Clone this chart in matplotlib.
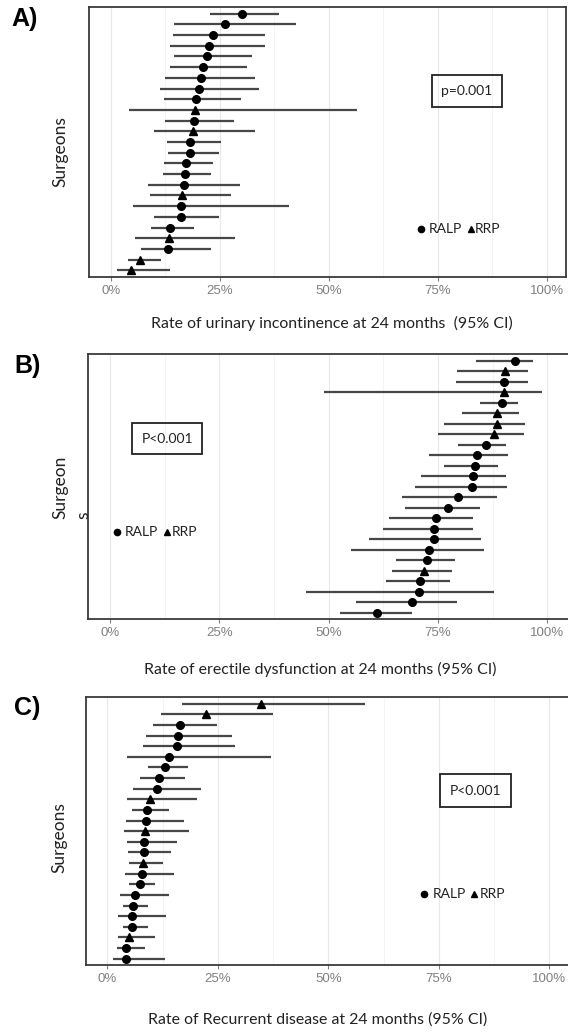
"""
Surgeon-level outcome rates (RALP vs RRP) with 95% CI - three stacked panels
"""

import matplotlib.pyplot as plt
import matplotlib.patches as mpatches
import numpy as np

# ---- Panel A: urinary incontinence (rows top -> bottom) ----
a_rate = [30.1, 26.2, 23.4, 22.5, 22.1, 21.2, 20.8, 20.2, 19.5, 19.3, 19.0, 18.9, 18.3,
          18.2, 17.3, 17.0, 16.7, 16.3, 16.2, 16.1, 13.5, 13.3, 13.2, 6.7, 4.6]
a_low = [22.8, 14.5, 14.3, 13.5, 14.6, 13.7, 12.4, 11.2, 12.2, 4.3, 12.4, 10.0, 12.9,
         13.2, 12.3, 12.1, 8.6, 9.1, 5.2, 10.0, 9.3, 5.6, 7.0, 3.9, 1.5]
a_high = [38.5, 42.5, 35.5, 35.4, 32.4, 31.3, 33.1, 34.0, 29.8, 56.5, 28.3, 33.0, 25.3,
          24.8, 23.5, 23.1, 29.6, 27.6, 40.8, 24.8, 19.2, 28.6, 23.1, 11.5, 13.7]
a_type = ['RALP'] * 9 + ['RRP', 'RALP', 'RRP'] + ['RALP'] * 5 + ['RRP'] + ['RALP'] * 3 + \
         ['RRP', 'RALP', 'RRP', 'RRP']

# ---- Panel B: erectile dysfunction ----
b_rate = [92.6, 90.3, 90.1, 90.1, 89.7, 88.6, 88.4, 87.9, 85.9, 84.0, 83.4, 83.1, 82.8,
          79.6, 77.2, 74.6, 74.1, 74.0, 72.9, 72.6, 71.7, 71.0, 70.7, 69.1, 61.1]
b_low = [83.7, 79.4, 79.2, 48.9, 84.7, 80.6, 76.3, 75.0, 79.6, 73.0, 76.3, 71.1, 69.8,
         66.8, 67.4, 63.8, 62.5, 59.2, 55.1, 65.3, 64.4, 63.1, 44.9, 56.2, 52.5]
b_high = [96.7, 95.6, 95.6, 98.8, 93.2, 93.5, 94.8, 94.6, 90.5, 91.0, 88.7, 90.6, 90.8,
          88.4, 84.7, 83.1, 83.0, 84.8, 85.5, 78.9, 78.3, 77.8, 87.7, 79.4, 69.1]
b_type = ['RALP', 'RRP', 'RALP', 'RRP', 'RALP', 'RRP', 'RRP', 'RRP'] + ['RALP'] * 12 + \
         ['RRP'] + ['RALP'] * 4

# ---- Panel C: recurrent disease ----
c_rate = [34.8, 22.3, 16.4, 16.1, 15.8, 14.0, 13.0, 11.6, 11.3, 9.7, 8.9, 8.8, 8.6,
          8.3, 8.3, 8.0, 7.8, 7.3, 6.2, 5.8, 5.7, 5.6, 5.0, 4.3, 4.2]
c_low = [17.0, 12.2, 10.4, 8.7, 8.0, 4.4, 9.2, 7.5, 5.8, 4.4, 5.6, 4.2, 3.8,
         4.4, 4.7, 5.0, 3.9, 4.9, 2.8, 3.6, 2.5, 3.5, 2.4, 2.2, 1.4]
c_high = [58.3, 37.4, 24.9, 28.1, 28.8, 37.0, 18.2, 17.6, 21.1, 20.4, 14.0, 17.4, 18.5,
          15.8, 14.4, 12.5, 15.2, 10.8, 14.0, 9.3, 13.2, 9.3, 10.9, 8.6, 13.1]
c_type = ['RRP', 'RRP'] + ['RALP'] * 7 + ['RRP', 'RALP', 'RALP', 'RRP', 'RALP', 'RALP', 'RRP'] + \
         ['RALP'] * 6 + ['RRP', 'RALP', 'RALP']

x_ticks = [0, 25, 50, 75, 100]
x_tick_labels = ['0%', '25%', '50%', '75%', '100%']

W, H = 568, 1032
TEXT_FONT = ['Lato', 'DejaVu Sans']
TICK_FONT = ['Liberation Sans', 'DejaVu Sans']
XLAB_SIZE = 11.4
YLAB_SIZE = 12.5


def px(x, y):
    """pixel -> figure fraction"""
    return x / W, 1 - y / H


def draw_panel(fig, rect, xlim, rate, low, high, kind, p_text, box_xy, box_wh, leg_xy):
    ax = fig.add_axes(rect)
    n = len(rate)
    ys = np.arange(n, 0, -1)

    ax.hlines(ys, low, high, color='#474747', lw=1.6, zorder=2)
    kind = np.array(kind)
    rate = np.array(rate)
    for name, mk, ms in [('RALP', 'o', 5.5), ('RRP', '^', 6)]:
        m = kind == name
        ax.plot(rate[m], ys[m], ls='none', marker=mk, ms=ms, color='black', zorder=3)

    ax.set_xlim(*xlim)
    ax.set_ylim(0.4, n + 0.6)
    ax.set_yticks([])
    ax.set_xticks(x_ticks)
    ax.set_xticklabels(x_tick_labels, family=TICK_FONT, fontsize=9.5, color='#808080')
    ax.set_xticks([12.5, 37.5, 62.5, 87.5], minor=True)
    ax.tick_params(axis='x', which='major', length=3, width=0.8, color='#808080', pad=3)
    ax.tick_params(axis='x', which='minor', length=0)
    ax.grid(axis='x', which='major', color='#e8e8e8', lw=0.8, zorder=0)
    ax.grid(axis='x', which='minor', color='#f2f2f2', lw=0.6, zorder=0)
    for s in ax.spines.values():
        s.set_color('#3a3a3a')
        s.set_linewidth(1.3)

    # p-value box
    bx, by = box_xy
    bw, bh = box_wh
    ax.add_patch(mpatches.Rectangle((bx - bw / 2, by - bh / 2), bw, bh, transform=ax.transAxes,
                                    fill=False, ec='#222222', lw=1.3, zorder=4))
    ax.text(bx, by, p_text, transform=ax.transAxes, ha='center', va='center',
            family=TEXT_FONT, fontsize=10, color='#222222')

    # legend keys
    cx, cy, rx, tx, qx = leg_xy
    ax.plot([cx], [cy], marker='o', ms=4.5, color='black', transform=ax.transAxes, clip_on=False)
    ax.text(rx, cy, 'RALP', transform=ax.transAxes, ha='left', va='center',
            family=TEXT_FONT, fontsize=10, color='#222222')
    ax.plot([tx], [cy], marker='^', ms=5, color='black', transform=ax.transAxes, clip_on=False)
    ax.text(qx, cy, 'RRP', transform=ax.transAxes, ha='left', va='center',
            family=TEXT_FONT, fontsize=10, color='#222222')
    return ax


def main():
    fig = plt.figure(figsize=(W / 100, H / 100), dpi=100)

    # A) urinary incontinence
    draw_panel(fig, [89.3 / W, 1 - 276.7 / H, 476.7 / W, 269.4 / H], (-4.91, 104.43),
               a_rate, a_low, a_high, a_type, 'p=0.001',
               (0.792, 0.689), (0.1468, 0.1188),
               (0.696, 0.176, 0.7126, 0.800, 0.809))
    # B) erectile dysfunction
    draw_panel(fig, [88 / W, 1 - 619 / H, 482 / W, 264.7 / H], (-5.03, 105.19),
               b_rate, b_low, b_high, b_type, 'P<0.001',
               (0.1645, 0.681), (0.1452, 0.1160),
               (0.0608, 0.3275, 0.0768, 0.1633, 0.1736))
    # C) recurrent disease
    draw_panel(fig, [86 / W, 1 - 965 / H, 484 / W, 267.7 / H], (-4.82, 104.68),
               c_rate, c_low, c_high, c_type, 'P<0.001',
               (0.8047, 0.651), (0.1467, 0.1233),
               (0.699, 0.264, 0.716, 0.802, 0.814))

    # panel letters
    for lab, (x, y) in [('A)', (24.7, 19.2)), ('B)', (27.5, 366)), ('C)', (26.7, 708))]:
        fig.text(*px(x, y), lab, ha='center', va='center', fontsize=18,
                 fontweight='bold', family=TICK_FONT, color='black')

    # y labels
    fig.text(*px(60, 152), 'Surgeons', rotation=90, ha='center', va='center',
             family=TEXT_FONT, fontsize=YLAB_SIZE, color='#222222')
    fig.text(*px(60, 487), 'Surgeon', rotation=90, ha='center', va='center',
             family=TEXT_FONT, fontsize=YLAB_SIZE, color='#222222')
    fig.text(*px(83, 515), 's', rotation=90, ha='center', va='center',
             family=TEXT_FONT, fontsize=YLAB_SIZE, color='#222222')
    fig.text(*px(59, 838), 'Surgeons', rotation=90, ha='center', va='center',
             family=TEXT_FONT, fontsize=YLAB_SIZE, color='#222222')

    # x labels
    fig.text(*px(331.5, 323.3), 'Rate of urinary incontinence at 24 months  (95% CI)',
             ha='center', va='center', family=TEXT_FONT, fontsize=XLAB_SIZE, color='#222222')
    fig.text(*px(320, 669.3), 'Rate of erectile dysfunction at 24 months (95% CI)',
             ha='center', va='center', family=TEXT_FONT, fontsize=XLAB_SIZE, color='#222222')
    fig.text(*px(318, 1020), 'Rate of Recurrent disease at 24 months (95% CI)',
             ha='center', va='center', family=TEXT_FONT, fontsize=XLAB_SIZE, color='#222222')

    fig.savefig('out.png', dpi=100, facecolor='white')
    plt.close(fig)


if __name__ == '__main__':
    main()
